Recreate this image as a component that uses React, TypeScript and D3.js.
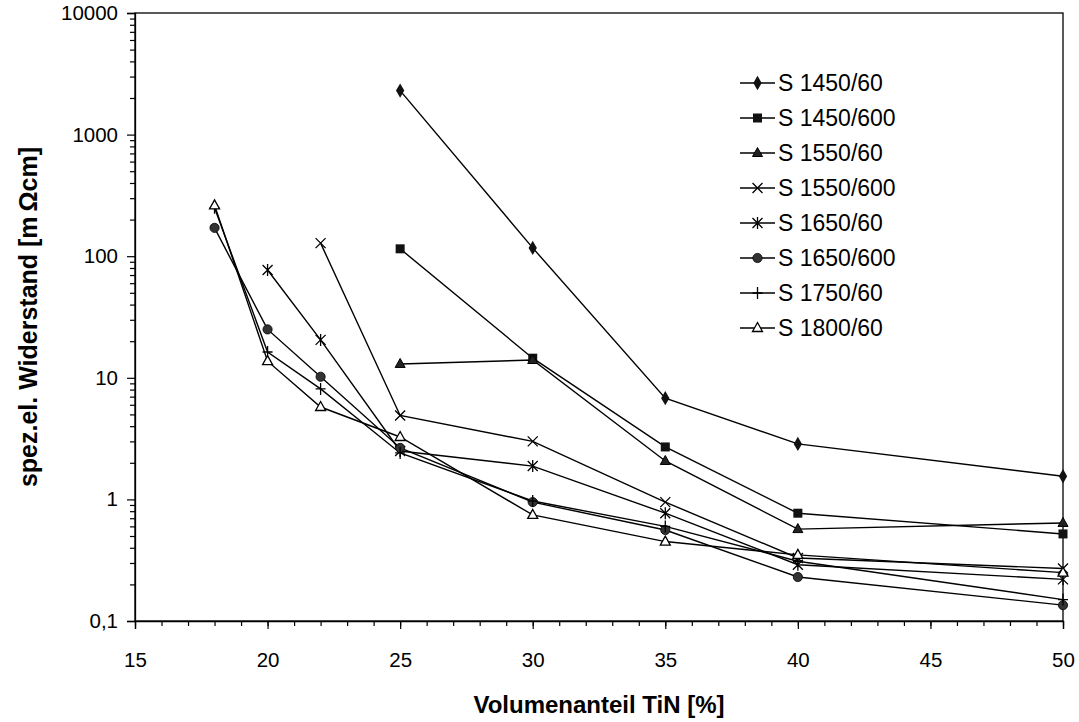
import React, { useRef, useEffect } from 'react';
import * as d3 from 'd3';

// x positions (Volumenanteil TiN, %)
const xS1450_60 = [25, 30, 35, 40, 50];
const yS1450_60 = [2300, 117, 6.8, 2.86, 1.55];

const xS1450_600 = [25, 30, 35, 40, 50];
const yS1450_600 = [115, 14.5, 2.7, 0.77, 0.52];

const xS1550_60 = [25, 30, 35, 40, 50];
const yS1550_60 = [13, 14.0, 2.07, 0.57, 0.64];

const xS1550_600 = [22, 25, 30, 35, 40, 50];
const yS1550_600 = [128, 4.9, 3.0, 0.95, 0.33, 0.27];

const xS1650_60 = [20, 22, 25, 30, 35, 40, 50];
const yS1650_60 = [77, 20.5, 2.5, 1.88, 0.77, 0.29, 0.22];

const xS1650_600 = [18, 20, 22, 25, 30, 35, 40, 50];
const yS1650_600 = [171, 25, 10.2, 2.65, 0.95, 0.56, 0.23, 0.135];

const xS1750_60 = [18, 20, 22, 25, 30, 35, 40, 50];
const yS1750_60 = [250, 16.3, 8.1, 2.41, 0.97, 0.6, 0.31, 0.15];

const xS1800_60 = [18, 20, 22, 25, 30, 35, 40, 50];
const yS1800_60 = [262, 13.7, 5.75, 3.26, 0.745, 0.45, 0.35, 0.25];

const seriesNames = ['S 1450/60', 'S 1450/600', 'S 1550/60', 'S 1550/600', 'S 1650/60', 'S 1650/600', 'S 1750/60', 'S 1800/60'];
const markerKinds = ['diamond', 'square', 'triangle', 'cross', 'asterisk', 'circle', 'plus', 'opentriangle'];
const seriesX = [xS1450_60, xS1450_600, xS1550_60, xS1550_600, xS1650_60, xS1650_600, xS1750_60, xS1800_60];
const seriesY = [yS1450_60, yS1450_600, yS1550_60, yS1550_600, yS1650_60, yS1650_600, yS1750_60, yS1800_60];

const xTicks = [15, 20, 25, 30, 35, 40, 45, 50];
const yTicks = [0.1, 1, 10, 100, 1000, 10000];
const yTickLabels = ['0,1', '1', '10', '100', '1000', '10000'];

const FONT = '"Liberation Sans", Arial, Helvetica, sans-serif';

const drawMarker = (g, kind, cx, cy) => {
	const m = g.append('g').attr('transform', 'translate(' + cx + ',' + cy + ')');
	if (kind === 'diamond') {
		m.append('path').attr('d', d3.symbol(d3.symbolDiamond, 60)()).attr('fill', '#111');
	} else if (kind === 'square') {
		m.append('rect').attr('x', -4.5).attr('y', -4.5).attr('width', 9).attr('height', 9).attr('fill', '#111');
	} else if (kind === 'triangle') {
		m.append('path').attr('d', 'M0,-5.5L5,3.5L-5,3.5Z').attr('fill', '#222').attr('stroke', '#000').attr('stroke-width', 1);
	} else if (kind === 'opentriangle') {
		m.append('path').attr('d', 'M0,-5.5L5,3.5L-5,3.5Z').attr('fill', '#fff').attr('stroke', '#000').attr('stroke-width', 1.3);
	} else if (kind === 'circle') {
		m.append('circle').attr('r', 4.6).attr('fill', '#333').attr('stroke', '#000').attr('stroke-width', 0.8);
	} else {
		const p = d3.path();
		if (kind === 'cross' || kind === 'asterisk') {
			p.moveTo(-5, -5); p.lineTo(5, 5);
			p.moveTo(-5, 5); p.lineTo(5, -5);
		}
		if (kind === 'asterisk' || kind === 'plus') {
			p.moveTo(0, -6); p.lineTo(0, 6);
		}
		if (kind === 'plus') {
			p.moveTo(-5, 0); p.lineTo(5, 0);
		}
		m.append('path').attr('d', p.toString()).attr('stroke', '#000').attr('stroke-width', 1.3).attr('fill', 'none');
	}
};

const App = () => {

	const chartRef = useRef(null);

	const width = 1079, height = 722;
	const margin = {top: 13, right: 16, bottom: 101, left: 135};
	const plotW = width - margin.left - margin.right,
		plotH = height - margin.top - margin.bottom;

	useEffect(
		() => {
			const svg = d3.select(chartRef.current);
			svg.selectAll('*').remove();

			const g = svg.append('g')
				.attr('transform', 'translate(' + margin.left + ',' + margin.top + ')');

			const x = d3.scaleLinear().domain([15, 50]).range([0, plotW]);
			const y = d3.scaleLog().domain([0.1, 10000]).range([plotH, 0]);

			// frame
			g.append('rect')
				.attr('width', plotW).attr('height', plotH)
				.attr('fill', 'none').attr('stroke', '#000').attr('stroke-width', 1.3);

			// minor ticks
			const yMinor = [];
			for (let e = -1; e < 4; e++) {
				for (let k = 2; k < 10; k++) yMinor.push(k * Math.pow(10, e));
			}
			g.append('g')
				.call(d3.axisLeft(y).tickValues(yMinor).tickSize(5).tickFormat(() => ''))
				.call(a => a.select('.domain').remove());
			g.append('g')
				.attr('transform', 'translate(0,' + plotH + ')')
				.call(d3.axisBottom(x).tickValues(d3.range(15, 51, 1)).tickSize(5).tickFormat(() => ''))
				.call(a => a.select('.domain').remove());

			// major ticks and labels
			const yAxis = g.append('g')
				.call(d3.axisLeft(y).tickValues(yTicks).tickSize(8).tickPadding(9)
					.tickFormat((d, i) => yTickLabels[i]));
			const xAxis = g.append('g')
				.attr('transform', 'translate(0,' + plotH + ')')
				.call(d3.axisBottom(x).tickValues(xTicks).tickSize(8).tickPadding(23)
					.tickFormat(d3.format('d')));
			[yAxis, xAxis].forEach(a => {
				a.select('.domain').attr('stroke-width', 1.3);
				a.selectAll('text').attr('font-family', FONT).attr('font-size', 20.5).attr('fill', '#000');
			});
			g.selectAll('.tick line').attr('stroke', '#000').attr('stroke-width', 1.2);

			// series
			const line = d3.line().x(d => x(d[0])).y(d => y(d[1]));
			seriesNames.forEach((name, i) => {
				const pts = seriesX[i].map((v, j) => [v, seriesY[i][j]]);
				g.append('path')
					.attr('d', line(pts))
					.attr('fill', 'none').attr('stroke', '#000').attr('stroke-width', 1.4);
			});
			seriesNames.forEach((name, i) => {
				seriesX[i].forEach((v, j) => drawMarker(g, markerKinds[i], x(v), y(seriesY[i][j])));
			});

			// legend
			const legend = svg.append('g').attr('transform', 'translate(740,83)');
			seriesNames.forEach((name, i) => {
				const row = legend.append('g').attr('transform', 'translate(0,' + (i * 35) + ')');
				row.append('line').attr('x1', 0).attr('x2', 35).attr('y1', 0).attr('y2', 0)
					.attr('stroke', '#000').attr('stroke-width', 1.4);
				drawMarker(row, markerKinds[i], 17.5, 0);
				row.append('text').attr('x', 38).attr('y', 0).attr('dy', '0.36em')
					.attr('font-family', FONT).attr('font-size', 23).text(name);
			});

			// axis titles
			svg.append('text')
				.attr('x', margin.left + plotW / 2).attr('y', 713)
				.attr('text-anchor', 'middle')
				.attr('font-family', FONT).attr('font-size', 24).attr('font-weight', 'bold')
				.text('Volumenanteil TiN [%]');
			svg.append('text')
				.attr('transform', 'translate(37,' + (margin.top + plotH / 2) + ') rotate(-90)')
				.attr('text-anchor', 'middle')
				.attr('font-family', FONT).attr('font-size', 25).attr('font-weight', 'bold')
				.text('spez.el. Widerstand [m\u2009\u03A9cm]');
		}, []);

	return (
		<svg ref={chartRef} width={width} height={height}
			style={{position: 'absolute', left: 0, top: 0, background: '#fff'}} />
	);
};

export default App;
